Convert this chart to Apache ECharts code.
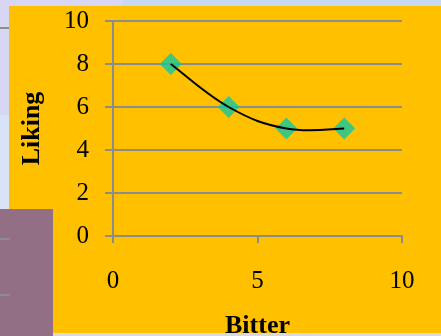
<!DOCTYPE html>
<html>
<head>
<meta charset="utf-8">
<script src="https://cdn.jsdelivr.net/npm/echarts@6/dist/echarts.min.js"></script>
<style>
html,body{margin:0;padding:0;width:441px;height:336px;overflow:hidden;background:#D8E4F5;}
#c{position:absolute;left:0;top:0;width:441px;height:336px;}
</style>
</head>
<body>
<div id="c"></div>
<script>
// Data
const bitter = [2, 4, 6, 8];
const liking = [8, 6, 5, 5];
const xTicks = [0, 5, 10];
const yTicks = [0, 2, 4, 6, 8, 10];
const xName = 'Bitter';
const yName = 'Liking';

const points = bitter.map((x, i) => [x, liking[i]]);
const font = '"Liberation Serif", "Times New Roman", serif';
const axisGray = '#8C8C8C';

// Smoothed connecting line (Excel-style spline) drawn through the data points
function renderSpline(params, api) {
  const i = params.dataIndex;
  if (i >= points.length - 1) return null;
  const P = k => api.coord(points[Math.max(0, Math.min(points.length - 1, k))]);
  const p0 = P(i - 1), p1 = P(i), p2 = P(i + 1), p3 = P(i + 2);
  const t = 0.2;
  const c1 = [p1[0] + (p2[0] - p0[0]) * t, p1[1] + (p2[1] - p0[1]) * t];
  const c2 = [p2[0] - (p3[0] - p1[0]) * t, p2[1] - (p3[1] - p1[1]) * t];
  return {
    type: 'bezierCurve',
    shape: {x1: p1[0], y1: p1[1], cpx1: c1[0], cpy1: c1[1], cpx2: c2[0], cpy2: c2[1], x2: p2[0], y2: p2[1]},
    style: {stroke: '#000', lineWidth: 2, fill: null}
  };
}

const chart = echarts.init(document.getElementById('c'), null, {renderer: 'canvas'});
chart.setOption({
  backgroundColor: 'transparent',
  animation: false,
  graphic: [
    {type: 'rect', z: -10, shape: {x: 0, y: 0, width: 441, height: 336}, style: {fill: '#D8E4F5'}, silent: true},
    {type: 'rect', z: -9, shape: {x: 123, y: 0, width: 318, height: 6}, style: {fill: '#C6D9F1'}, silent: true},
    {type: 'rect', z: -9, shape: {x: 0, y: 0, width: 123, height: 115}, style: {fill: '#D7D7F3'}, silent: true},
    {type: 'rect', z: -8, shape: {x: 9, y: 6, width: 432, height: 330}, style: {fill: '#FFC000'}, silent: true},
    {type: 'rect', z: -8, shape: {x: 0, y: 27, width: 9, height: 2}, style: {fill: axisGray}, silent: true},
    {type: 'rect', z: 100, shape: {x: 0, y: 333, width: 441, height: 3}, style: {fill: '#D9D9D9'}, silent: true},
    {type: 'rect', z: 101, shape: {x: 0, y: 209, width: 53, height: 127}, style: {fill: '#926F85'}, silent: true},
    {type: 'rect', z: 102, shape: {x: 0, y: 238, width: 10, height: 2}, style: {fill: axisGray}, silent: true},
    {type: 'rect', z: 102, shape: {x: 0, y: 294, width: 10, height: 2}, style: {fill: axisGray}, silent: true}
  ],
  grid: {left: 113, right: 39, top: 21, bottom: 100, containLabel: false, outerBoundsMode: 'none'},
  xAxis: {
    type: 'value', min: xTicks[0], max: xTicks[xTicks.length - 1], interval: 5,
    name: xName, nameLocation: 'middle', nameGap: 77,
    nameTextStyle: {fontFamily: font, fontSize: 26, fontWeight: 'bold', color: '#000'},
    axisLine: {show: true, lineStyle: {color: axisGray, width: 2}},
    axisTick: {show: true, inside: false, length: 7, lineStyle: {color: axisGray, width: 2}},
    axisLabel: {fontFamily: font, fontSize: 25, color: '#000', margin: 33},
    splitLine: {show: false}
  },
  yAxis: {
    type: 'value', min: yTicks[0], max: yTicks[yTicks.length - 1], interval: 2,
    name: yName, nameLocation: 'middle', nameGap: 68, nameRotate: 90,
    nameTextStyle: {fontFamily: font, fontSize: 26, fontWeight: 'bold', color: '#000'},
    axisLine: {show: true, lineStyle: {color: axisGray, width: 2}},
    axisTick: {show: true, inside: false, length: 8, lineStyle: {color: axisGray, width: 2}},
    axisLabel: {fontFamily: font, fontSize: 25, color: '#000', margin: 24},
    splitLine: {show: true, lineStyle: {color: axisGray, width: 2}}
  },
  series: [
    {
      type: 'scatter', data: points, symbol: 'diamond', symbolSize: 22, z: 2,
      itemStyle: {color: '#12C7A0'}
    },
    {
      type: 'custom', data: points, renderItem: renderSpline, z: 3, silent: true,
      encode: {x: 0, y: 1}
    }
  ]
});
</script>
</body>
</html>
